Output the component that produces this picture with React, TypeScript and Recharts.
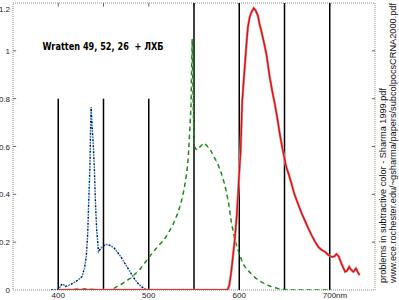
import { LineChart, Line, XAxis, YAxis, ReferenceLine, ReferenceArea } from 'recharts';

// wavelength (nm) / relative value
const blueNm = [392, 398, 401, 403, 405, 408, 412, 417, 422, 426, 429, 431, 432.6, 433.7, 435, 435.6, 436.3, 437.2, 438.5, 440, 441, 442.5, 444.5, 446.5, 449, 452, 455, 458, 462, 465, 469, 473, 476, 480, 484, 488, 493, 497, 500];
const blueVal = [0, 0, 0.005, 0.02, 0.025, 0.015, 0.02, 0.03, 0.042, 0.055, 0.09, 0.14, 0.24, 0.375, 0.51, 0.65, 0.765, 0.7, 0.62, 0.5, 0.375, 0.25, 0.16, 0.172, 0.182, 0.19, 0.19, 0.185, 0.175, 0.16, 0.14, 0.115, 0.097, 0.072, 0.048, 0.028, 0.011, 0.003, 0];

const greenNm = [400, 430, 445, 458, 462, 470, 480, 490, 498, 505, 512, 517, 522, 527, 532, 536, 539, 542, 543.7, 545.5, 546.7, 547.5, 548, 548.8, 549.5, 550.5, 553, 557, 561, 565, 569, 573, 576, 580, 584, 588, 591, 595, 600, 604, 608, 613, 618, 624, 630, 636, 642, 647, 655, 700];
const greenVal = [0, 0.005, 0, 0, 0.008, 0.025, 0.05, 0.085, 0.125, 0.16, 0.19, 0.21, 0.24, 0.275, 0.32, 0.37, 0.42, 0.49, 0.555, 0.68, 0.77, 0.95, 1.05, 0.85, 0.7, 0.6, 0.585, 0.6, 0.615, 0.6, 0.58, 0.55, 0.53, 0.49, 0.44, 0.37, 0.29, 0.21, 0.153, 0.11, 0.088, 0.069, 0.05, 0.035, 0.022, 0.014, 0.007, 0.003, 0, 0];

const redNm = [400, 587, 589, 591, 593, 595, 597, 598.5, 600, 601.5, 603.3, 606, 608, 609.6, 611.5, 613.3, 616, 618, 620.7, 622.5, 624.4, 627, 630, 633.7, 636.5, 639.3, 642, 644.8, 647.8, 650, 652, 655, 657.8, 661, 665, 669, 672.6, 676, 680, 684, 687.4, 691, 694.8, 698, 702, 705, 707.5, 710, 713, 717, 719, 721.5, 723.5, 726, 729, 731, 733];
const redVal = [0, 0, 0.02, 0.07, 0.14, 0.21, 0.3, 0.39, 0.49, 0.58, 0.79, 0.93, 1.03, 1.1, 1.14, 1.16, 1.178, 1.17, 1.146, 1.11, 1.083, 1.04, 0.986, 0.889, 0.83, 0.778, 0.72, 0.653, 0.59, 0.55, 0.514, 0.48, 0.444, 0.4, 0.36, 0.32, 0.29, 0.26, 0.229, 0.2, 0.18, 0.168, 0.16, 0.148, 0.139, 0.14, 0.15, 0.14, 0.11, 0.076, 0.08, 0.097, 0.085, 0.076, 0.09, 0.075, 0.062];

// black marker lines: wavelength and how high they go
const markNm = [400, 450, 500, 550, 600, 650, 700];
const markTop = [0.8, 0.8, 0.8, 1.2, 1.2, 1.2, 1.2];

const xTicks = [400, 500, 600, 700];
const yTicks = [0, 0.2, 0.4, 0.6, 0.8, 1, 1.2];
const frameXTicks = [400, 450, 500, 550, 600, 650, 700];

const toRows = (nm: number[], val: number[]) => nm.map((x, i) => ({ nm: x, v: val[i] }));

const blueData = toRows(blueNm, blueVal);
const greenData = toRows(greenNm, greenVal);
const redData = toRows(redNm, redVal);

const FONT = '"Liberation Sans", Arial, sans-serif';

const XTick = (props: any) => {
  const { x, y, payload } = props;
  const is700 = payload.value === 700;
  return (
    <text
      x={is700 ? x - 7 : x}
      y={y + 8}
      textAnchor={is700 ? 'start' : 'middle'}
      fontSize={8}
      fontFamily={FONT}
      fill="#222"
    >
      {is700 ? '700nm' : payload.value}
    </text>
  );
};

const YTick = (props: any) => {
  const { x, y, payload } = props;
  return (
    <text x={x} y={y + 3} textAnchor="end" fontSize={8} fontFamily={FONT} fill="#222">
      {payload.value}
    </text>
  );
};

export default function App() {
  return (
    <div style={{ position: 'absolute', left: 0, top: 0, width: 399, height: 300, background: '#fff' }}>
      <LineChart width={399} height={300} data={redData} margin={{ top: 3, right: 24, left: 0, bottom: 0 }}>
        <XAxis
          type="number"
          dataKey="nm"
          domain={[350, 750]}
          ticks={xTicks}
          height={10}
          tickSize={0}
          tickMargin={0}
          tickLine={false}
          axisLine={false}
          tick={<XTick />}
          allowDataOverflow
        />
        <YAxis
          type="number"
          domain={[0, 1.2]}
          ticks={yTicks}
          width={13}
          tickSize={0}
          tickMargin={3}
          tickLine={false}
          axisLine={false}
          tick={<YTick />}
          allowDataOverflow
        />
        <ReferenceArea x1={350} x2={750} y1={0} y2={1.2} fill="none" stroke="#8a8a8a" strokeDasharray="1 1" />
        {frameXTicks.map((t) => (
          <ReferenceLine key={`tb${t}`} segment={[{ x: t, y: 1.2 }, { x: t, y: 1.185 }]} stroke="#666" />
        ))}
        {yTicks.slice(1, -1).map((t) => (
          <ReferenceLine key={`tr${t}`} segment={[{ x: 750, y: t }, { x: 746.5, y: t }]} stroke="#666" />
        ))}
        {yTicks.slice(1, -1).map((t) => (
          <ReferenceLine key={`tl${t}`} segment={[{ x: 350, y: t }, { x: 353.5, y: t }]} stroke="#666" />
        ))}
        {markNm.map((m, i) => (
          <ReferenceLine key={`m${m}`} segment={[{ x: m, y: 0 }, { x: m, y: markTop[i] }]} stroke="#000" strokeWidth={1.5} />
        ))}
        <Line data={greenData} dataKey="v" type="linear" stroke="#8c8c8c" strokeWidth={1} strokeDasharray="1 3" dot={false} isAnimationActive={false} />
        <Line data={greenData} dataKey="v" type="linear" stroke="#109010" strokeWidth={1.5} strokeDasharray="4 4" dot={false} isAnimationActive={false} />
        <Line data={blueData} dataKey="v" type="linear" stroke="#00007a" strokeWidth={1.4} strokeDasharray="2 4" dot={false} isAnimationActive={false} />
        <Line data={blueData} dataKey="v" type="linear" stroke="#1a8c8c" strokeWidth={1.4} strokeDasharray="2 4" strokeDashoffset={3} dot={false} isAnimationActive={false} />
        <Line data={redData} dataKey="v" type="linear" stroke="#b0b0b0" strokeWidth={2.6} dot={false} isAnimationActive={false} />
        <Line data={redData} dataKey="v" type="linear" stroke="#ff0000" strokeWidth={1.4} dot={false} isAnimationActive={false} />
      </LineChart>
      <svg width={399} height={300} style={{ position: 'absolute', left: 0, top: 0, pointerEvents: 'none' }}>
        <text
          x={42.5}
          y={49.5}
          fontSize={10}
          fontWeight="bold"
          fontFamily='"DejaVu Sans", Verdana, sans-serif'
          textLength={121}
          lengthAdjust="spacingAndGlyphs"
          style={{ whiteSpace: 'pre' }}
          fill="#000"
        >
          Wratten 49, 52, 26  + ЛХБ
        </text>
        <text
          transform="translate(386,283) rotate(-90)"
          fontSize={8.5}
          fontFamily={FONT}
          textLength={195}
          lengthAdjust="spacingAndGlyphs"
          fill="#111"
        >
          problems in subtractive color - Sharma 1999.pdf
        </text>
        <text
          transform="translate(396,283) rotate(-90)"
          fontSize={8.5}
          fontFamily={FONT}
          textLength={280}
          lengthAdjust="spacingAndGlyphs"
          fill="#111"
        >
          www.ece.rochester.edu/~gsharma/papers/subcolpocsCRNA2000.pdf
        </text>
      </svg>
    </div>
  );
}
